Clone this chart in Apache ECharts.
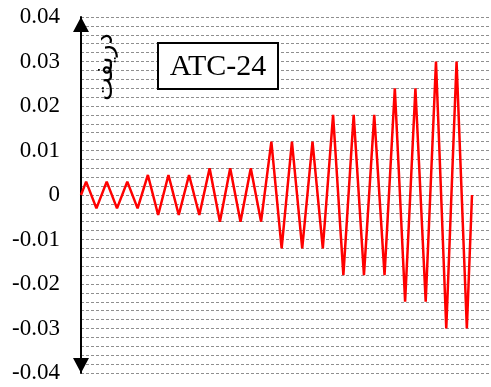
<!DOCTYPE html>
<html>
<head>
<meta charset="utf-8">
<script src="https://cdn.jsdelivr.net/npm/echarts@6/dist/echarts.min.js"></script>
<style>
  html, body { margin: 0; padding: 0; background: #fff; }
  #chart { width: 491px; height: 387px; }
</style>
</head>
<body>
<div id="chart"></div>
<script>
// ATC-24 loading protocol: drift history, one point per quarter cycle
const steps = [0, 1, 3, 5, 7, 9, 11, 13, 15, 17, 19, 21, 23, 25, 27, 29, 31, 33, 35, 37,
               39, 41, 43, 45, 47, 49, 51, 53, 55, 57, 59, 61, 63, 65, 67, 69, 71, 73, 75, 76];
const drift = [0,
  0.003, -0.003, 0.003, -0.003, 0.003, -0.003,
  0.0045, -0.0045, 0.0045, -0.0045, 0.0045, -0.0045,
  0.006, -0.006, 0.006, -0.006, 0.006, -0.006,
  0.012, -0.012, 0.012, -0.012, 0.012, -0.012,
  0.018, -0.018, 0.018, -0.018, 0.018, -0.018,
  0.024, -0.024, 0.024, -0.024,
  0.030, -0.030, 0.030, -0.030,
  0];
const yTicks = [-0.04, -0.03, -0.02, -0.01, 0, 0.01, 0.02, 0.03, 0.04];
const yTitle = 'دریفت';
const protocolName = 'ATC-24';

const chart = echarts.init(document.getElementById('chart'));
const gridStyle = { color: '#8f8f8f', width: 1, type: [3, 2] };

chart.setOption({
  animation: false,
  grid: { left: 81, right: 1, top: 17, bottom: 14 },
  xAxis: {
    type: 'value', min: 0, max: 79.5,
    show: false
  },
  yAxis: {
    type: 'value',
    min: yTicks[0], max: yTicks[yTicks.length - 1], interval: 0.01,
    axisLine: {
      show: true, onZero: false,
      lineStyle: { color: '#000', width: 2 },
      symbol: ['triangle', 'triangle'],
      symbolSize: [16, 15],
      symbolOffset: [7.5, -7.5]
    },
    axisTick: { show: false },
    axisLabel: {
      color: '#000', fontFamily: 'Liberation Serif', fontSize: 23, margin: 21,
      formatter: v => String(+v.toFixed(2))
    },
    splitLine: { show: true, lineStyle: gridStyle },
    minorTick: { show: false, splitNumber: 5 },
    minorSplitLine: { show: true, lineStyle: gridStyle }
  },
  series: [{
    type: 'line',
    data: steps.map((t, i) => [t, drift[i]]),
    symbol: 'none',
    lineStyle: { color: '#ff0000', width: 2.5 },
    z: 3
  }],
  graphic: [
    {
      type: 'text', x: 105, y: 67, rotation: Math.PI / 2, z: 10,
      style: { text: yTitle, font: '25px "DejaVu Sans"', fill: '#000', align: 'center', verticalAlign: 'middle' }
    },
    {
      type: 'rect', z: 10,
      shape: { x: 158, y: 43, width: 120, height: 46 },
      style: { fill: '#fff', stroke: '#000', lineWidth: 2 }
    },
    {
      type: 'text', x: 218, y: 67, z: 11,
      style: { text: protocolName, font: '30px "Liberation Serif"', fill: '#000', align: 'center', verticalAlign: 'middle' }
    }
  ]
});
</script>
</body>
</html>
